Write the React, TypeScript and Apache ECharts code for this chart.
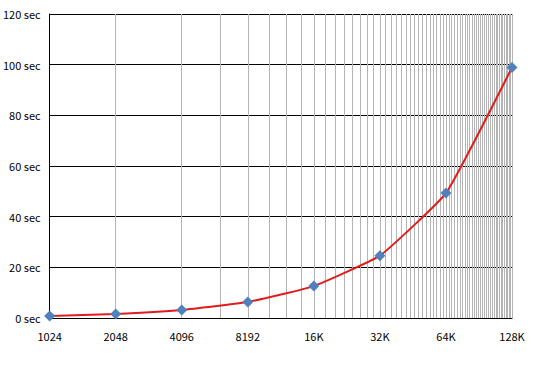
import React, { useEffect, useRef } from "react";
import * as echarts from "echarts";

const sizes = [1024, 2048, 4096, 8192, 16384, 32768, 65536, 131072];
const seconds = [0.8, 1.6, 3.2, 6.3, 12.6, 24.6, 49.3, 98.9];
const sizeLabels: Record<number, string> = {
  1024: "1024",
  2048: "2048",
  4096: "4096",
  8192: "8192",
  16384: "16K",
  32768: "32K",
  65536: "64K",
  131072: "128K",
};
const minorStep = 2048;

const FONT = "'Noto Sans CJK JP', 'DejaVu Sans', sans-serif";

export default function App() {
  const ref = useRef<HTMLDivElement>(null);
  useEffect(() => {
    if (!ref.current) return;
    const chart = echarts.init(ref.current, null, { renderer: "svg" });
    const minorLines: any[] = [];
    for (let v = minorStep; v <= sizes[sizes.length - 1]; v += minorStep) {
      minorLines.push({ xAxis: v });
    }
    chart.setOption({
      animation: false,
      backgroundColor: "#ffffff",
      grid: { left: 49, right: 27, top: 14, bottom: 51, containLabel: false },
      xAxis: {
        type: "log",
        logBase: 2,
        min: 1024,
        max: 131072,
        interval: 1,
        axisLine: { show: true, lineStyle: { color: "#000", width: 1 } },
        axisTick: { show: false },
        splitLine: { show: false },
        minorTick: { show: false },
        axisLabel: {
          margin: 12,
          fontSize: 11,
          fontFamily: FONT,
          color: "#000",
          formatter: (v: number) => sizeLabels[Math.round(v)] ?? String(Math.round(v)),
        },
      },
      yAxis: {
        type: "value",
        min: 0,
        max: 120,
        interval: 20,
        axisLine: { show: true, lineStyle: { color: "#000", width: 1 } },
        axisTick: { show: false },
        splitLine: { show: true, lineStyle: { color: "#000", width: 1 } },
        axisLabel: {
          margin: 9,
          fontSize: 11,
          fontFamily: FONT,
          color: "#000",
          formatter: (v: number) => `${v} sec`,
        },
      },
      series: [
        {
          type: "line",
          data: sizes.map((s, i) => [s, seconds[i]]),
          smooth: 0.12,
          lineStyle: { color: "#e01c1c", width: 2 },
          itemStyle: { color: "#4f81bd" },
          symbol: "diamond",
          symbolSize: 11,
          z: 5,
          markLine: {
            silent: true,
            symbol: "none",
            label: { show: false },
            lineStyle: { color: "#b4b4b4", width: 1, type: "solid" },
            data: minorLines,
            z: 1,
          },
        },
      ],
    });
    return () => chart.dispose();
  }, []);
  return (
    <div
      ref={ref}
      style={{ position: "absolute", left: 0, top: 0, width: 539, height: 369 }}
    />
  );
}
